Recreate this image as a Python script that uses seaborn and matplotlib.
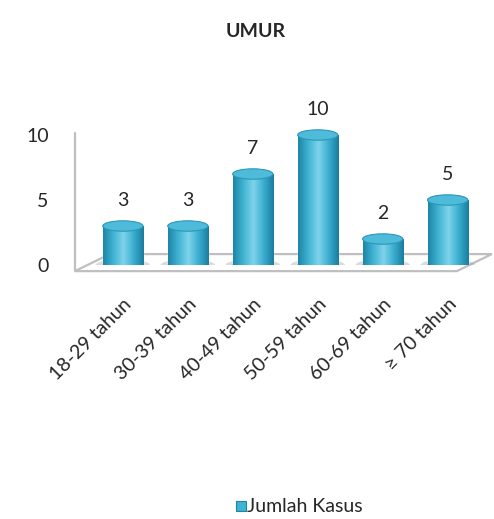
import numpy as np
import matplotlib.pyplot as plt
import seaborn as sns
from matplotlib.patches import Ellipse, Polygon
from matplotlib.colors import LinearSegmentedColormap

# data
categories = ['18-29 tahun', '30-39 tahun', '40-49 tahun', '50-59 tahun', '60-69 tahun', '≥ 70 tahun']
jumlah_kasus = [3, 3, 7, 10, 2, 5]
y_ticks = [0, 5, 10]

sns.set_style('white')
plt.rcParams['font.family'] = ['Lato', 'DejaVu Sans']

fig = plt.figure(figsize=(4.94, 5.19), dpi=100)
ax = fig.add_axes([0.183, 0.4894, 0.789, 0.263])

body = '#2FA2C4'
sns.barplot(x=categories, y=jumlah_kasus, color=body, width=0.62,
            saturation=1, ax=ax, zorder=3)

ax.set_xlim(-0.5, 5.5)
ax.set_ylim(0, 10.5)
ax.set_yticks(y_ticks)
ax.tick_params(axis='y', labelsize=14, length=0, pad=30)
ax.tick_params(axis='x', labelsize=14, length=0, pad=22)
for lbl in ax.get_xticklabels():
    lbl.set_rotation(45)
    lbl.set_ha('right')
    lbl.set_rotation_mode('anchor')
ax.set_xlabel('')
ax.set_ylabel('')
for s in ax.spines.values():
    s.set_visible(False)

# floor and back wall (decoration in axes coords)
floor = Polygon([[-0.04, -0.045], [0.94, -0.045], [1.03, 0.08], [0.05, 0.08]],
                closed=True, transform=ax.transAxes, clip_on=False,
                facecolor='white', edgecolor='#BFBFBF', lw=1.6, zorder=1)
ax.add_patch(floor)
ax.plot([-0.04, -0.04], [-0.045, 0.97], transform=ax.transAxes, clip_on=False,
        color='#BFBFBF', lw=1.6, zorder=1)

# cylinder shading
cmap = LinearSegmentedColormap.from_list(
    'cyl', ['#1D84A6', '#3FB3D3', '#7FD3EA', '#3AAED0', '#1A7C9E'])
grad = np.linspace(0, 1, 256).reshape(1, -1)
cap_h = 0.8
for p in ax.patches[:]:
    if p is floor:
        continue
    x0, w, h = p.get_x(), p.get_width(), p.get_height()
    im = ax.imshow(grad, cmap=cmap, aspect='auto', extent=[x0, x0 + w, 0, h],
                   zorder=3.5)
    im.set_clip_path(p)
    # soft shadow on the floor
    ax.add_patch(Ellipse((x0 + w / 2, 0.0), w * 1.35, cap_h * 1.1,
                         facecolor='#9A9A9A', alpha=0.35, lw=0, zorder=2))
    ax.add_patch(Ellipse((x0 + w / 2, 0.0), w, cap_h,
                         facecolor='#1D84A6', lw=0, zorder=3.2))
    ax.add_patch(Ellipse((x0 + w / 2, h), w, cap_h,
                         facecolor='#4DBBD9', edgecolor='#2B97B9', lw=0.8,
                         zorder=4))
    ax.text(x0 + w / 2, h + 1.3, f'{h:g}', ha='center', va='bottom',
            fontsize=14, zorder=5)
ax.set_xlim(-0.5, 5.5)
ax.set_ylim(0, 10.5)

fig.text(0.517, 0.94, 'UMUR', ha='center', va='center', fontsize=14,
         fontweight='bold')

# legend
lx, ly = 0.478, 0.025
fig.patches.append(plt.Rectangle((lx, ly - 0.01), 0.02, 0.02,
                                 transform=fig.transFigure,
                                 facecolor='#3FB3D3', edgecolor='#1D84A6',
                                 lw=0.8))
fig.text(lx + 0.022, ly, 'Jumlah Kasus', ha='left', va='center', fontsize=14)

fig.savefig('out.png', dpi=100)
